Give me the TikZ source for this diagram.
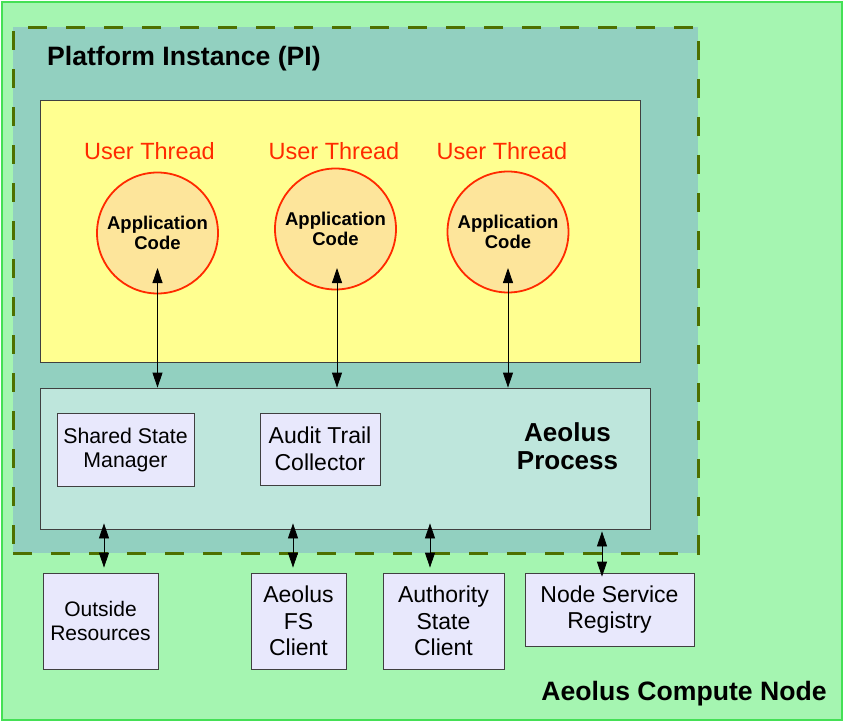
\documentclass[tikz,border=0pt]{standalone}
\usepackage{fontspec}
\setmainfont{Liberation Sans}
\usetikzlibrary{arrows.meta,calc}
\definecolor{outerfill}{HTML}{A5F5B1}
\definecolor{outerline}{HTML}{44E055}
\definecolor{pifill}{HTML}{92D0C0}
\definecolor{pidash}{HTML}{4E7000}
\definecolor{yel}{HTML}{FFFF90}
\definecolor{procfill}{HTML}{BEE6DC}
\definecolor{boxfill}{HTML}{E8E8FC}
\definecolor{circfill}{HTML}{FDE59B}
\definecolor{redline}{HTML}{FF2A00}
\begin{document}
\begin{tikzpicture}[x=1pt,y=-1pt,
  region/.style={draw=black!75,line width=0.8pt},
  smallbox/.style={region,fill=boxfill,align=center,inner sep=0pt,font=\fontsize{23}{26.5}\selectfont},
  thread/.style={circle,draw=redline,line width=1.8pt,fill=circfill,minimum size=121pt,inner sep=0pt,align=center,font=\bfseries\fontsize{18.5}{20}\selectfont},
  threadlabel/.style={text=redline,font=\fontsize{23.5}{26}\selectfont,inner sep=0pt},
  biarrow/.style={black,line width=0.8pt,{Triangle[length=15pt,width=10pt]}-{Triangle[length=15pt,width=10pt]}}
]
\useasboundingbox (0,0) rectangle (844,721);
% outer compute node
\node[draw=outerline,line width=1.5pt,fill=outerfill,minimum width=840pt,minimum height=718pt,inner sep=0pt] (outer) at (422,361) {};
% platform instance
\node[draw=pidash,line width=3pt,dash pattern=on 19pt off 19pt,fill=pifill,minimum width=685pt,minimum height=526pt,inner sep=0pt] (pi) at (355.5,290) {};
\node[anchor=west,font=\bfseries\fontsize{26.6}{28}\selectfont,inner sep=0pt] (pilabel) at (47,59) {Platform Instance (PI)};
% user area
\node[region,fill=yel,minimum width=600pt,minimum height=262pt,inner sep=0pt] (user) at (340,231) {};
% aeolus process
\node[region,fill=procfill,minimum width=610pt,minimum height=141pt,inner sep=0pt] (proc) at (345,458.5) {};
\node[align=center,font=\bfseries\fontsize{26}{28}\selectfont,inner sep=0pt] (proclabel) at (567.5,446.5) {Aeolus\\Process};
\node[smallbox,minimum width=137pt,minimum height=73pt,font=\fontsize{21.3}{24}\selectfont] (ssm) at (125.5,450) {Shared State\\Manager};
\node[smallbox,minimum width=120pt,minimum height=72pt] (atc) at (320,449) {Audit Trail\\Collector};
% threads
\node[threadlabel] (ut1) at (149.5,151.5) {User Thread};
\node[threadlabel] (ut2) at (334,151.5) {User Thread};
\node[threadlabel] (ut3) at (502,151.5) {User Thread};
\node[thread] (c1) at (157.5,233) {Application\\Code};
\node[thread] (c2) at (335.5,229) {Application\\Code};
\node[thread] (c3) at (508,232) {Application\\Code};
% external boxes
\node[smallbox,minimum width=115pt,minimum height=96pt,font=\fontsize{21}{24}\selectfont] (outres) at (100.5,621) {Outside\\Resources};
\node[smallbox,minimum width=95pt,minimum height=96pt] (fs) at (298.5,621) {Aeolus\\FS\\Client};
\node[smallbox,minimum width=121pt,minimum height=96pt] (auth) at (443.5,621) {Authority\\State\\Client};
\node[smallbox,minimum width=169pt,minimum height=73pt] (nsr) at (609.5,609.5) {Node Service\\Registry};
\node[font=\bfseries\fontsize{26.6}{28}\selectfont,inner sep=0pt] (cnlabel) at (684,693.5) {Aeolus Compute Node};
% arrow x positions
\coordinate (x1) at (104,0);
\coordinate (x2) at (293,0);
\coordinate (x3) at (430,0);
\coordinate (x4) at (602,0);
% arrows thread <-> process
\draw[biarrow] ($(c1.center)+(0,35)$) -- (c1.center |- proc.north);
\draw[biarrow] ($(c2.center)+(1.5,39)$) -- ($(c2.center |- proc.north)+(1.5,0)$);
\draw[biarrow] ($(c3.center)+(0,36)$) -- (c3.center |- proc.north);
% arrows process <-> external
\draw[biarrow] ([yshift=6pt]proc.south -| x1) -- ([yshift=5pt]outres.north -| x1);
\draw[biarrow] ([yshift=6pt]proc.south -| x2) -- ([yshift=5pt]fs.north -| x2);
\draw[biarrow] ([yshift=6pt]proc.south -| x3) -- ([yshift=5pt]auth.north -| x3);
\draw[biarrow] ([yshift=-2pt]proc.south -| x4) -- ([yshift=-4pt]nsr.north -| x4);
\end{tikzpicture}
\end{document}
